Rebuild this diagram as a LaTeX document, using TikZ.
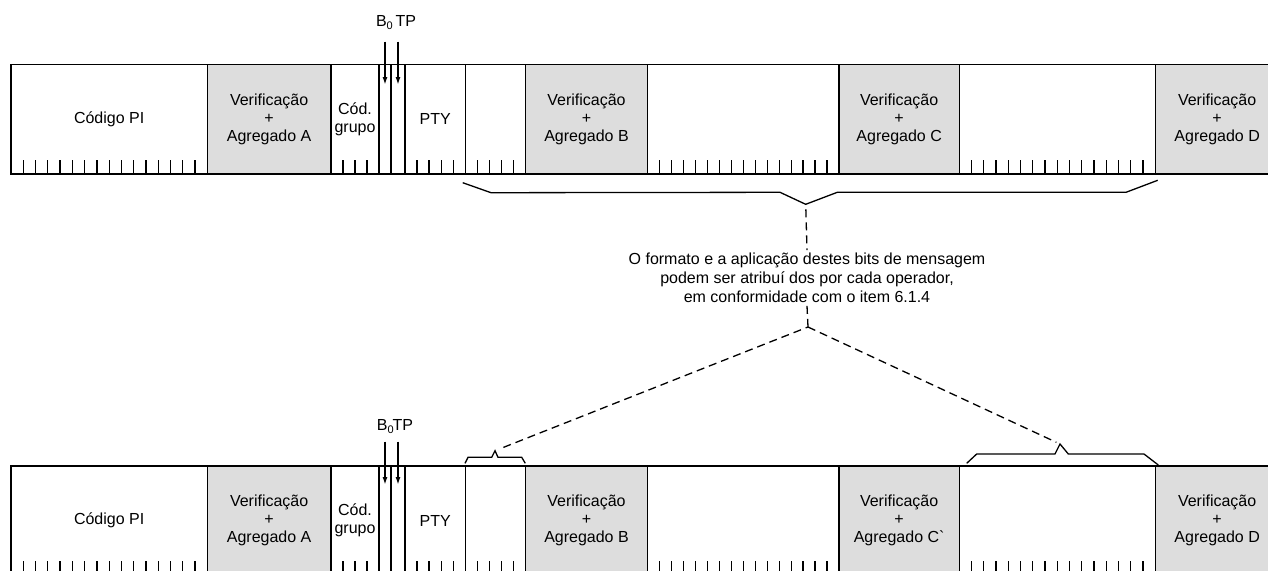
\documentclass[tikz,border=0pt]{standalone}
\usepackage{fontspec}
\setmainfont{Liberation Sans}
\usetikzlibrary{arrows.meta}
\definecolor{checkgray}{RGB}{221,221,221}
\newcommand{\bsub}[1]{\raisebox{-3pt}{\fontsize{11}{11}\selectfont #1}}
\tikzset{
  field/.style={draw, line width=1.3pt, minimum height=109.3pt, inner sep=0pt,
    outer sep=0pt, align=center, font=\fontsize{16}{18}\selectfont},
  plain/.style={field},
  check/.style={field, fill=checkgray},
  tick/.style={line width=1.3pt},
  brace/.style={line width=1.3pt},
  link/.style={line width=1.3pt, dash pattern=on 8pt off 5pt},
  bitarrow/.style={-{Latex[length=8pt,width=5pt]}, line width=2.2pt}
}
\begin{document}
\begin{tikzpicture}[x=1pt,y=-1pt]
\useasboundingbox (0,0) rectangle (1268,570);
\clip (0,0) rectangle (1268,570);
% the two blocks
\foreach \row/\y/\cc in {t/64.7/C, b/466/{C\textasciigrave}} {
  \foreach \i/\xa/\xb/\lbl/\sty in {
      1/11/207.3/{Código PI}/plain,
      2/207.3/331/{Verificação\\+\\Agregado A}/check,
      3/331/379/{Cód.\\grupo}/plain,
      4/379/391/{}/plain,
      5/391/405/{}/plain,
      6/405/465.3/{PTY}/plain,
      7/465.3/525.3/{}/plain,
      8/525.3/647.7/{Verificação\\+\\Agregado B}/check,
      9/647.7/839/{}/plain,
      10/839/959.3/{Verificação\\+\\Agregado \cc}/check,
      11/959.3/1155.3/{}/plain,
      12/1155.3/1279/{Verificação\\+\\Agregado D}/check} {
    \pgfmathsetmacro\w{\xb-\xa}
    \node[\sty, minimum width=\w pt, anchor=north west] (\row\i) at (\xa,\y) {\lbl};
  }
  % bit marks
  \foreach \xa/\xb/\n in {11/207.3/16, 331/379/4, 405/465.3/5, 465.3/525.3/5,
      647.7/839/16, 959.3/1155.3/16} {
    \pgfmathtruncatemacro\m{\n-1}
    \foreach \k in {1,...,\m}
      \draw[tick] ({\xa+\k*(\xb-\xa)/\n},{\y+109.3}) -- ++(0,-14);
  }
}
% B0 and TP flags
\node[font=\fontsize{16}{18}\selectfont] (flagt) at (396,23) {B\bsub{0}\,TP};
\node[font=\fontsize{16}{18}\selectfont] (flagb) at (395,427) {B\bsub{0}\kern-1pt TP};
\draw[bitarrow] (t4.center |- 0,41.7) -- (t4.center |- 0,85);
\draw[bitarrow] (t5.center |- 0,41.7) -- (t5.center |- 0,85);
\draw[bitarrow] (b4.center |- 0,441.7) -- (b4.center |- 0,485);
\draw[bitarrow] (b5.center |- 0,441.7) -- (b5.center |- 0,485);
% braces
\draw[brace] (462.7,182.7) -- (491,192.7) -- (780,192.3) -- (805.7,204.3) coordinate (tipA)
  -- (837.3,192.3) -- (1126,192.3) -- (1157.7,180.3);
\draw[brace] (465,463.3) -- (468,457.3) -- (491.7,457.3) -- (495,450.7) coordinate (tipB)
  -- (498,457.3) -- (521.7,457.3) -- (525.3,463.3);
\draw[brace] (966.7,463.3) -- (976.7,454) -- (1055,454) -- (1060,444) coordinate (tipC)
  -- (1068.3,454) -- (1144,454) -- (1158.3,465);
% note
\node[align=center, inner sep=3pt, font=\fontsize{16}{18.8}\selectfont] (note) at (807,278)
  {O formato e a aplicação destes bits de mensagem\\
   podem ser atribuí dos por cada operador,\\
   em conformidade com o item 6.1.4};
\coordinate (fork) at (808,327);
\draw[link, shorten <=5pt] (tipA) -- (note.north);
\draw[link] (note.south) -- (fork);
\draw[link, shorten <=9pt] (tipB) -- (fork);
\draw[link, shorten >=4pt] (fork) -- (tipC);
\end{tikzpicture}
\end{document}
